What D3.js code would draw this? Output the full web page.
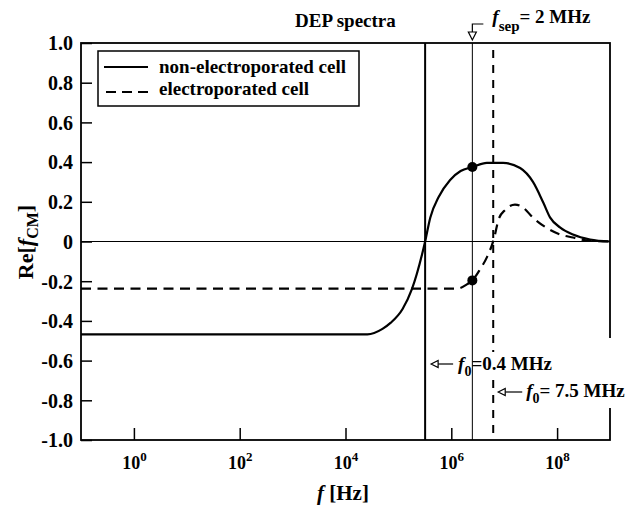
<!DOCTYPE html>
<html>
<head>
<meta charset="utf-8">
<title>DEP spectra</title>
<script src="https://d3js.org/d3.v7.min.js"></script>
<style>
  body { margin: 0; background: #fff; }
  svg text { font-family: "Liberation Serif", "Times New Roman", serif; font-weight: bold; fill: #000; }
</style>
</head>
<body>
<div id="chart"></div>
<script>
// frequencies (Hz) and Re[fCM]
var freqNon = [1e-1, 2.6e4, 5.0e4, 7.1e4, 1.2e5, 1.8e5, 3.2e5, 4.0e5, 5.8e5, 9.5e5, 1.5e6, 2.5e6,
               4.7e6, 9.5e6, 2.0e7, 3.5e7, 5.5e7, 7.4e7, 1.15e8, 2.0e8, 4.2e8, 1e9];
var reNon   = [-0.468, -0.468, -0.44, -0.41, -0.34, -0.24, 0, 0.12, 0.225, 0.31, 0.355, 0.375,
               0.396, 0.396, 0.37, 0.30, 0.195, 0.12, 0.07, 0.035, 0.01, 0];

var freqEl = [1e-1, 1.3e6, 2.0e6, 2.5e6, 3.5e6, 4.7e6, 6.5e6, 7.8e6, 1.05e7, 1.6e7, 2.3e7,
              3.5e7, 6.3e7, 1.15e8, 2.0e8, 3.7e8, 1e9];
var reEl   = [-0.237, -0.237, -0.215, -0.196, -0.14, -0.08, 0.02, 0.11, 0.16, 0.186, 0.17,
              0.12, 0.069, 0.035, 0.02, 0.005, 0];

// marker lines: f0 (non-electroporated), fsep, f0 (electroporated)
var f0Non = 3.2e5, fSep = 2.5e6, f0El = 6.2e6;
var dotValues = [0.375, -0.196];

var xTicks = [1e0, 1e2, 1e4, 1e6, 1e8];
var yTicks = [-1.0, -0.8, -0.6, -0.4, -0.2, 0, 0.2, 0.4, 0.6, 0.8, 1.0];
var legendLabels = ["non-electroporated cell", "electroporated cell"];

var W = 629, H = 508;
var pLeft = 81, pRight = 610, pTop = 43, pBottom = 440;

var svg = d3.select("#chart").append("svg")
    .attr("width", W)
    .attr("height", H);

var x = d3.scaleLog().domain([1e-1, 1e9]).range([pLeft, pRight]);
var y = d3.scaleLinear().domain([-1, 1]).range([pBottom, pTop]);

// x axis (ticks point inward)
var gx = svg.append("g")
    .attr("transform", "translate(0," + pBottom + ")")
    .call(d3.axisBottom(x).tickValues(xTicks).tickSizeInner(-12).tickSizeOuter(0));
gx.select(".domain").remove();
gx.selectAll(".tick line").attr("stroke", "#000").attr("stroke-width", 1.5);
gx.selectAll(".tick text")
    .attr("y", 29).attr("dy", 0)
    .attr("font-size", 18)
    .each(function(d) {
        var t = d3.select(this);
        t.text(null);
        t.append("tspan").text("10");
        t.append("tspan").attr("dy", -8).attr("font-size", 13).text(Math.round(Math.log10(d)));
    });

// y axis
var gy = svg.append("g")
    .attr("transform", "translate(" + pLeft + ",0)")
    .call(d3.axisLeft(y).tickValues(yTicks).tickSizeInner(-11).tickSizeOuter(0).tickPadding(8)
        .tickFormat(function(v) { return v === 0 ? "0" : v.toFixed(1); }));
gy.select(".domain").remove();
gy.selectAll(".tick line").attr("stroke", "#000").attr("stroke-width", 1.5);
gy.selectAll(".tick text").attr("font-size", 20).attr("dy", "0.34em");

// zero line
svg.append("line")
    .attr("x1", pLeft).attr("x2", pRight)
    .attr("y1", y(0)).attr("y2", y(0))
    .attr("stroke", "#000").attr("stroke-width", 1);

// vertical marker lines
svg.append("line")
    .attr("x1", x(f0Non)).attr("x2", x(f0Non))
    .attr("y1", pTop).attr("y2", pBottom)
    .attr("stroke", "#000").attr("stroke-width", 2);
svg.append("line")
    .attr("x1", x(fSep)).attr("x2", x(fSep))
    .attr("y1", pTop).attr("y2", pBottom)
    .attr("stroke", "#000").attr("stroke-width", 1);
svg.append("line")
    .attr("x1", x(f0El)).attr("x2", x(f0El))
    .attr("y1", pTop).attr("y2", pBottom)
    .attr("stroke", "#000").attr("stroke-width", 2)
    .attr("stroke-dasharray", "8,7")
    .attr("stroke-dashoffset", -7);

// curves
var line = d3.line()
    .x(function(d) { return x(d[0]); })
    .y(function(d) { return y(d[1]); })
    .curve(d3.curveMonotoneX);

svg.append("path")
    .datum(d3.zip(freqNon, reNon))
    .attr("d", line)
    .attr("fill", "none").attr("stroke", "#000").attr("stroke-width", 2.2);

svg.append("path")
    .datum(d3.zip(freqEl, reEl))
    .attr("d", line)
    .attr("fill", "none").attr("stroke", "#000").attr("stroke-width", 2.2)
    .attr("stroke-dasharray", "10,6.5");

// dots at fsep
svg.selectAll(".dot")
    .data(dotValues)
    .enter().append("circle")
    .attr("cx", x(fSep))
    .attr("cy", function(d) { return y(d); })
    .attr("r", 5)
    .attr("fill", "#000");

// frame
svg.append("rect")
    .attr("x", pLeft).attr("y", pTop)
    .attr("width", pRight - pLeft).attr("height", pBottom - pTop)
    .attr("fill", "none").attr("stroke", "#000").attr("stroke-width", 1.8);

// legend
svg.append("rect")
    .attr("x", 98).attr("y", 51).attr("width", 261).attr("height", 55)
    .attr("fill", "#fff").attr("stroke", "#000").attr("stroke-width", 1.5);
svg.append("line")
    .attr("x1", 104).attr("x2", 148).attr("y1", 67).attr("y2", 67)
    .attr("stroke", "#000").attr("stroke-width", 2.2);
svg.append("line")
    .attr("x1", 106).attr("x2", 148).attr("y1", 92).attr("y2", 92)
    .attr("stroke", "#000").attr("stroke-width", 2.2)
    .attr("stroke-dasharray", "10,6");
svg.selectAll(".legtext")
    .data(legendLabels)
    .enter().append("text")
    .attr("x", 159)
    .attr("y", function(d, i) { return 73 + i * 22; })
    .attr("font-size", 19)
    .text(function(d) { return d; });

// title
svg.append("text")
    .attr("x", 295).attr("y", 27)
    .attr("font-size", 19)
    .text("DEP spectra");

// fsep annotation
var xs = x(fSep);
svg.append("path")
    .attr("d", "M" + (xs + 11) + ",24 H" + xs + " V32")
    .attr("fill", "none").attr("stroke", "#000").attr("stroke-width", 1.2);
svg.append("path")
    .attr("d", "M" + (xs - 4) + ",32 L" + (xs + 4) + ",32 L" + xs + ",40 Z")
    .attr("fill", "#fff").attr("stroke", "#000").attr("stroke-width", 1.2);
var tSep = svg.append("text").attr("x", xs + 20).attr("y", 23).attr("font-size", 19);
tSep.append("tspan").attr("font-style", "italic").text("f");
tSep.append("tspan").attr("dy", 8).attr("font-size", 15).text("sep");
tSep.append("tspan").attr("dy", -8).text("= 2 MHz");

// f0 annotations: white patches behind the labels first
var xa = x(f0Non), xb = x(f0El);
svg.append("rect").attr("x", 476).attr("y", 352).attr("width", 82).attr("height", 28).attr("fill", "#fff");
svg.append("rect").attr("x", 545).attr("y", 338).attr("width", 84).attr("height", 70).attr("fill", "#fff");

function leftArrow(tipX, yy, len) {
    svg.append("path")
        .attr("d", "M" + (tipX + 7) + "," + yy + " H" + (tipX + len))
        .attr("stroke", "#000").attr("stroke-width", 1.2);
    svg.append("path")
        .attr("d", "M" + tipX + "," + yy + " L" + (tipX + 7) + "," + (yy - 3.5) +
              " L" + (tipX + 7) + "," + (yy + 3.5) + " Z")
        .attr("fill", "#fff").attr("stroke", "#000").attr("stroke-width", 1.2);
}

leftArrow(xa + 6, 364, 22);
var tA = svg.append("text").attr("x", xa + 33).attr("y", 370).attr("font-size", 19);
tA.append("tspan").attr("font-style", "italic").text("f");
tA.append("tspan").attr("dy", 6).attr("font-size", 14).text("0");
tA.append("tspan").attr("dy", -6).text("=0.4 MHz");

leftArrow(xb + 5, 392, 24);
var tB = svg.append("text").attr("x", xb + 33).attr("y", 397).attr("font-size", 19);
tB.append("tspan").attr("font-style", "italic").text("f");
tB.append("tspan").attr("dy", 6).attr("font-size", 14).text("0");
tB.append("tspan").attr("dy", -6).text("= 7.5 MHz");

// axis titles
var tX = svg.append("text")
    .attr("x", 343).attr("y", 500)
    .attr("text-anchor", "middle")
    .attr("font-size", 21);
tX.append("tspan").attr("font-style", "italic").text("f");
tX.append("tspan").text(" [Hz]");

var tY = svg.append("text")
    .attr("transform", "translate(33,242) rotate(-90)")
    .attr("text-anchor", "middle")
    .attr("font-size", 22);
tY.append("tspan").text("Re[");
tY.append("tspan").attr("font-style", "italic").text("f");
tY.append("tspan").attr("dy", 5).attr("font-size", 16).text("CM");
tY.append("tspan").attr("dy", -5).text("]");
</script>
</body>
</html>
